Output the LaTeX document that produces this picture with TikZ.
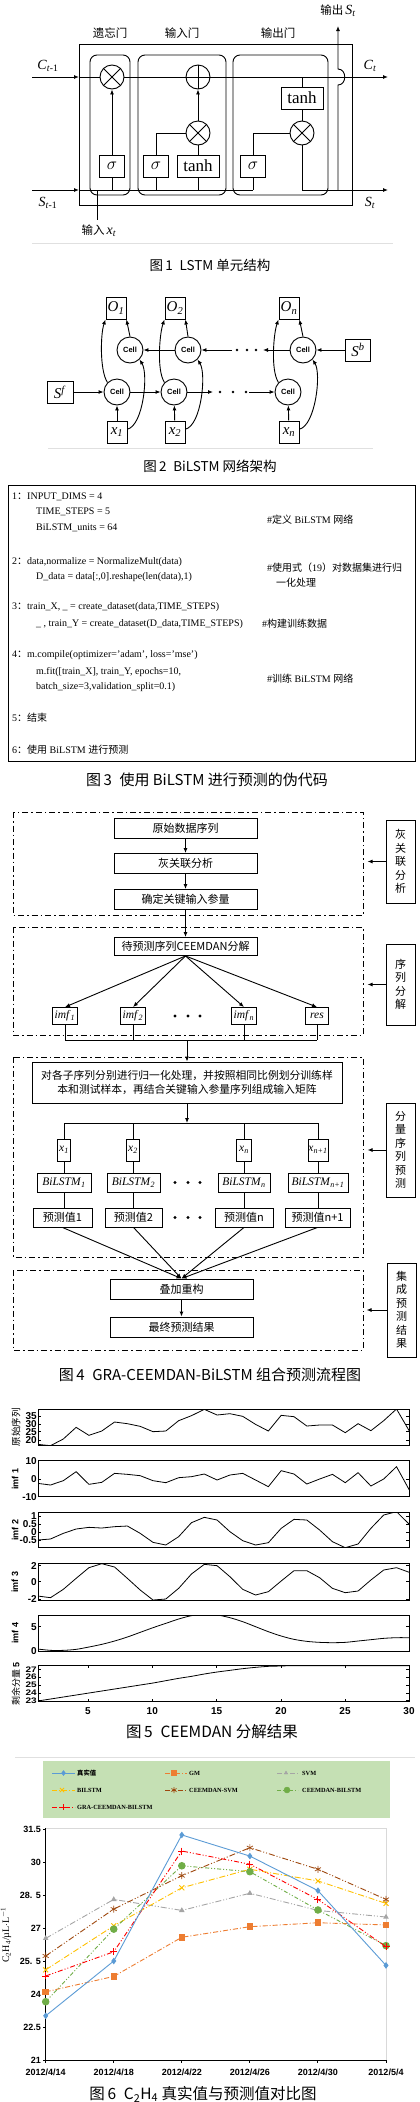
\documentclass[tikz,border=0pt]{standalone}
\usepackage{fontspec}
\usepackage{graphicx}
\setmainfont{Liberation Serif}
\setsansfont{Liberation Sans}
\newfontfamily\cjk{Noto Sans CJK SC}
\usetikzlibrary{arrows.meta,plotmarks}
\definecolor{cblue}{RGB}{91,155,213}
\definecolor{corange}{RGB}{237,125,49}
\definecolor{cgray}{RGB}{165,165,165}
\definecolor{cyellow}{RGB}{255,192,0}
\definecolor{cbrown}{RGB}{158,72,14}
\definecolor{cgreen}{RGB}{112,173,71}
\definecolor{cred}{RGB}{255,0,0}
\definecolor{legbg}{RGB}{197,224,180}
\newcommand\itsub[2]{{\rmfamily\textit{#1}\textsubscript{\textit{#2}}}}
\tikzset{
 ln/.style={line width=0.9pt},
 arr/.style={line width=0.9pt,-{Latex[length=5pt,width=4pt]}},
 capt/.style={font=\cjk\fontsize{#1}{#1}\selectfont, inner sep=0pt},
 lab/.style={font=\cjk\fontsize{11.5}{11.5}\selectfont, inner sep=0pt},
 mlab/.style={font=\fontsize{14}{14}\selectfont, inner sep=0pt},
 op/.style={draw, circle, line width=0.9pt, minimum size=24pt, inner sep=0pt, fill=white},
 gbox/.style={draw, line width=0.9pt, minimum height=22pt, inner sep=0pt, fill=white, font=\fontsize{17}{17}\selectfont},
 cell/.style={draw, circle, line width=0.9pt, minimum size=26pt, inner sep=0pt, font=\sffamily\bfseries\fontsize{7.5}{7.5}\selectfont},
 sq/.style={draw, line width=0.9pt, minimum width=20pt, minimum height=22pt, inner sep=0pt, font=\fontsize{15}{15}\selectfont},
 code/.style={anchor=west, inner sep=0pt, font=\fontsize{10}{10}\selectfont},
 dd/.style={line width=0.9pt, dash pattern=on 6pt off 3pt on 1.5pt off 3pt},
 fb/.style={draw, line width=0.9pt, minimum height=20pt, inner sep=0pt, font=\cjk\fontsize{11}{11}\selectfont},
 mb/.style={draw, line width=0.9pt, inner sep=0pt, font=\fontsize{11.5}{11.5}\selectfont},
 rbox/.style={draw, line width=0.9pt, minimum width=29pt, inner sep=0pt, align=center, font=\cjk\fontsize{11}{13.5}\selectfont},
 tick/.style={font=\sffamily\bfseries\fontsize{10}{10}\selectfont, inner sep=0pt},
 ylab/.style={rotate=90, inner sep=0pt},
 curve/.style={line width=0.8pt},
 gtick/.style={font=\sffamily\bfseries\fontsize{9}{9}\selectfont, inner sep=0pt},
 legt/.style={anchor=west, inner sep=0pt, font=\bfseries\fontsize{6.3}{6.3}\selectfont},
}
\begin{document}
\begin{tikzpicture}[x=1pt,y=-1pt]
\useasboundingbox (0,0) rectangle (420,2102);
% ================= Figure 1 =================
\draw[ln] (79,44) rectangle (352,205);
\draw[ln, rounded corners=7pt] (90,55) rectangle (130,195);
\draw[ln, rounded corners=7pt] (138,55) rectangle (226,195);
\draw[ln, rounded corners=7pt] (233,55) rectangle (328,195);
\node[lab] (g1) at (110,33) {遗忘门};
\node[lab] (g2) at (182,33) {输入门};
\node[lab] (g3) at (278,33) {输出门};
\node[op] (fm) at (112,77) {};
\node[op] (ip) at (198,77) {};
\node[op] (im) at (198,133) {};
\node[op] (om) at (302,133) {};
\draw[ln] (fm.north east) -- (fm.south west) (fm.north west) -- (fm.south east);
\draw[ln] (im.north east) -- (im.south west) (im.north west) -- (im.south east);
\draw[ln] (om.north east) -- (om.south west) (om.north west) -- (om.south east);
\draw[ln] (ip.north) -- (ip.south) (ip.west) -- (ip.east);
\node[gbox, minimum width=25pt] (fs) at (112,166) {$\sigma$};
\node[gbox, minimum width=25pt] (is) at (156,166) {$\sigma$};
\node[gbox, minimum width=42pt] (it) at (198,166) {tanh};
\node[gbox, minimum width=25pt] (os) at (253,166) {$\sigma$};
\node[gbox, minimum width=42pt] (ot) at (302,98) {tanh};
\draw[arr] (32,77) -- (79,77);
\draw[ln] (79,77) -- (fm.west) (fm.east) -- (ip.west);
\draw[arr] (ip.east) -- (388,77);
\draw[ln] (302,77) -- (ot.north);
\draw[ln] (ot.south) -- (om.north);
\draw[arr] (fs.north) -- (fm.south);
\draw[ln] (fs.south) -- (112,190);
\draw[ln] (is.north) |- (im.west);
\draw[ln] (it.north) -- (im.south);
\draw[arr] (im.north) -- (ip.south);
\draw[ln] (is.south) -- (156,190);
\draw[ln] (it.south) -- (198,190);
\draw[ln] (os.north) |- (om.west);
\draw[ln] (os.south) -- (253,190);
\draw[arr] (32,190) -- (79,190);
\draw[ln] (79,190) -- (253,190);
\draw[arr] (om.south) |- (388,190);
\draw[arr] (338,190) -- (338,85) .. controls (347,85) and (347,69) .. (338,69) -- (338,26);
\draw[ln] (97,190) -- (97,220);
\node[mlab] (c0) at (48,66) {\textit{C}\textsubscript{\textit{t}-1}};
\node[mlab] (c1) at (370,66) {\itsub{C}{t}};
\node[mlab] (s0) at (48,203) {\textit{S}\textsubscript{\textit{t}-1}};
\node[mlab] (s1) at (370,203) {\itsub{S}{t}};
\node[lab] (xin) at (99,231) {输入\,{\fontsize{14}{14}\selectfont\itsub{x}{t}}};
\node[lab] (sout) at (338,11) {输出\,{\fontsize{14}{14}\selectfont\itsub{S}{t}}};
\draw[black!12] (32,243) -- (393,243);
\node[capt=13.5] (cap1) at (210,265) {图\,1\enspace LSTM 单元结构};
% ================= Figure 2 =================
\node[sq] (O1) at (116,308) {\itsub{O}{1}};
\node[sq] (O2) at (175,308) {\itsub{O}{2}};
\node[sq] (On) at (289,308) {\itsub{O}{n}};
\node[cell] (U1) at (130,350) {Cell};
\node[cell] (U2) at (188,350) {Cell};
\node[cell] (Un) at (303,350) {Cell};
\node[cell] (L1) at (117,392) {Cell};
\node[cell] (L2) at (174,392) {Cell};
\node[cell] (Ln) at (288,392) {Cell};
\node[sq] (X1) at (117,432) {\itsub{x}{1}};
\node[sq] (X2) at (175,432) {\itsub{x}{2}};
\node[sq] (Xn) at (289,432) {\itsub{x}{n}};
\node[sq, minimum width=26pt] (Sf) at (60,392) {\textit{S}\textsuperscript{\textit{f}}};
\node[sq, minimum width=25pt] (Sb) at (358,350) {\textit{S}\textsuperscript{\textit{b}}};
\draw[arr] (Sf) -- (L1);
\draw[arr] (L1) -- (L2);
\draw[arr] (L2) -- (213,392);
\draw[arr] (249,392) -- (Ln);
\draw[arr] (Sb) -- (Un);
\draw[arr] (Un) -- (263,350);
\draw[arr] (232,350) -- (U2);
\draw[arr] (U2) -- (U1);
\foreach \xx in {220,233,246} \fill (\xx,392) circle (1.3pt);
\foreach \xx in {237,247,256} \fill (\xx,350) circle (1.3pt);
\foreach \c/\o/\l/\x in {U1/O1/L1/X1, U2/O2/L2/X2, Un/On/Ln/Xn} {
  \draw[arr] (\x) -- (\l);
  \draw[arr] (\c.north) -- (\o.south east);
  \draw[arr] (\l.north west) .. controls ([xshift=-8pt,yshift=12pt]\l.north west) and ([xshift=-5pt,yshift=-14pt]\o.south west) .. (\o.south west);
  \draw[arr] (\x.15) .. controls ([xshift=16pt,yshift=4pt]\x.15) and ([xshift=9pt,yshift=-14pt]\c.south east) .. (\c.south east);
}
\draw[black!12] (48,448) -- (373,448);
\node[capt=13.5] (cap2) at (210,466) {图\,2\enspace BiLSTM 网络架构};
% ================= Figure 3 =================
\draw[line width=0.8pt] (8,485) rectangle (415,761);
\node[code] (p1) at (12,497) {1{\cjk ：}INPUT\_DIMS = 4};
\node[code] (p2) at (36,512) {TIME\_STEPS = 5};
\node[code] (p3) at (36,528) {BiLSTM\_units = 64};
\node[code] (p4) at (267,520) {\#{\cjk 定义} BiLSTM {\cjk 网络}};
\node[code] (p5) at (12,562) {2{\cjk ：}data,normalize = NormalizeMult(data)};
\node[code] (p6) at (36,577) {D\_data = data[:,0].reshape(len(data),1)};
\node[code] (p7) at (267,568) {\#{\cjk 使用式（}19{\cjk ）对数据集进行归}};
\node[code] (p8) at (276,583) {{\cjk 一化处理}};
\node[code] (p9) at (12,607) {3{\cjk ：}train\_X, \_ = create\_dataset(data,TIME\_STEPS)};
\node[code] (p10) at (36,624) {\_ , train\_Y = create\_dataset(D\_data,TIME\_STEPS)};
\node[code] (p11) at (262,624) {\#{\cjk 构建训练数据}};
\node[code] (p12) at (12,655) {4{\cjk ：}m.compile(optimizer='adam', loss='mse')};
\node[code] (p13) at (36,672) {m.fit([train\_X], train\_Y, epochs=10,};
\node[code] (p14) at (36,687) {batch\_size=3,validation\_split=0.1)};
\node[code] (p15) at (267,679) {\#{\cjk 训练} BiLSTM {\cjk 网络}};
\node[code] (p16) at (12,718) {5{\cjk ：结束}};
\node[code] (p17) at (12,750) {6{\cjk ：使用} BiLSTM {\cjk 进行预测}};
\node[capt=15] (cap3) at (207,780) {图\,3\enspace 使用 BiLSTM 进行预测的伪代码};
% ================= Figure 4 =================
\draw[dd] (13,812) rectangle (363,915);
\draw[dd] (13,927) rectangle (363,1035);
\draw[dd] (13,1057) rectangle (363,1257);
\draw[dd] (13,1270) rectangle (363,1350);
\node[rbox, minimum height=83pt] (R1) at (400.5,861.5) {灰\\关\\联\\分\\析};
\node[rbox, minimum height=81pt] (R2) at (400.5,984.5) {序\\列\\分\\解};
\node[rbox, minimum height=94pt] (R3) at (400.5,1150) {分\\量\\序\\列\\预\\测};
\node[rbox, minimum height=94pt] (R4) at (401.5,1310) {集\\成\\预\\测\\结\\果};
\draw[arr] (R1.west) -- ++(-18,0);
\draw[arr] (R2.west) -- ++(-18,0);
\draw[arr] (R3.west) -- ++(-18,0);
\draw[arr] (R4.west) -- ++(-20,0);
\node[fb, minimum width=143pt] (B1) at (185.5,828) {原始数据序列};
\node[fb, minimum width=143pt] (B2) at (185.5,863.5) {灰关联分析};
\node[fb, minimum width=143pt] (B3) at (185.5,899.5) {确定关键输入参量};
\node[fb, minimum width=143pt, minimum height=18pt] (B4) at (185.5,946.5) {待预测序列CEEMDAN分解};
\draw[arr] (B1) -- (B2);
\draw[arr] (B2) -- (B3);
\draw[arr] (B3) -- (B4);
\node[mb, minimum width=25pt, minimum height=17pt] (I1) at (65,1016) {\itsub{imf}{1}};
\node[mb, minimum width=25pt, minimum height=17pt] (I2) at (133,1016) {\itsub{imf}{2}};
\node[mb, minimum width=25pt, minimum height=17pt] (In) at (244,1016) {\itsub{imf}{n}};
\node[mb, minimum width=23pt, minimum height=17pt] (Ir) at (317,1016) {\textit{res}};
\foreach \n in {I1,I2,In,Ir} \draw[arr] (B4.south) -- (\n.north);
\foreach \xx in {175,188,200} \fill (\xx,1016) circle (1.6pt);
\foreach \n in {I1,I2,In,Ir} \draw[ln] (\n.south) -- (\n.south |- 0,1040);
\draw[ln] (65,1040) -- (317,1040);
\node[fb, minimum width=310pt, minimum height=41pt, align=center, font=\cjk\fontsize{10.8}{13.5}\selectfont] (T) at (187,1082.5) {对各子序列分别进行归一化处理，并按照相同比例划分训练样\\本和测试样本，再结合关键输入参量序列组成输入矩阵};
\coordinate (bus1) at (187,1040);
\draw[arr] (bus1) -- (T.north);
\coordinate (bus2) at (187,1123);
\draw[arr] (T.south) -- (bus2);
\draw[ln] (65,1123) -- (318,1123);
\node[mb, minimum width=13pt, minimum height=22pt] (XX1) at (64,1150) {\itsub{x}{1}};
\node[mb, minimum width=13pt, minimum height=22pt] (XX2) at (133,1150) {\itsub{x}{2}};
\node[mb, minimum width=15pt, minimum height=22pt] (XXn) at (244,1150) {\itsub{x}{n}};
\node[mb, minimum width=20pt, minimum height=22pt] (XXm) at (318,1150) {\itsub{x}{n+1}};
\node[mb, minimum width=54pt, minimum height=19pt] (M1) at (64,1182.5) {\itsub{BiLSTM}{1}};
\node[mb, minimum width=53pt, minimum height=19pt] (M2) at (133.5,1182.5) {\itsub{BiLSTM}{2}};
\node[mb, minimum width=52pt, minimum height=19pt] (Mn) at (244,1182.5) {\itsub{BiLSTM}{n}};
\node[mb, minimum width=60pt, minimum height=19pt] (Mm) at (318,1182.5) {\itsub{BiLSTM}{n+1}};
\node[fb, minimum width=59pt, minimum height=19pt] (V1) at (62.5,1217.5) {预测值1};
\node[fb, minimum width=57pt, minimum height=19pt] (V2) at (133.5,1217.5) {预测值2};
\node[fb, minimum width=58pt, minimum height=19pt] (Vn) at (244,1217.5) {预测值n};
\node[fb, minimum width=65pt, minimum height=19pt] (Vm) at (317.5,1217.5) {预测值n+1};
\foreach \a/\b/\c in {XX1/M1/V1, XX2/M2/V2, XXn/Mn/Vn, XXm/Mm/Vm} {
  \draw[ln] (\a.north |- 0,1123) -- (\a.north);
  \draw[ln] (\a.south) -- (\a.south |- \b.north);
  \draw[ln] (\b.south) -- (\b.south |- \c.north);
}
\foreach \yy in {1182.5,1217.5} \foreach \xx in {175,188,200} \fill (\xx,\yy) circle (1.6pt);
\node[fb, minimum width=143pt] (B5) at (181.5,1289) {叠加重构};
\node[fb, minimum width=143pt] (B6) at (181.5,1327) {最终预测结果};
\foreach \n in {V1,V2,Vn,Vm} \draw[arr] (\n.south) -- (B5.north);
\draw[arr] (B5) -- (B6);
\node[capt=15] (cap4) at (210,1375) {图\,4\enspace GRA-CEEMDAN-BiLSTM 组合预测流程图};
% ================= Figure 5 =================
\foreach \ya/\yb in {1409.3/1445, 1460.7/1496.7, 1512.7/1547.7, 1563.3/1600, 1615/1651, 1665/1701.7}
  \draw[line width=0.9pt] (38,\ya) rectangle (409,\yb);
\foreach \xx in {88,152.3,216.7,281,345} {
  \draw[line width=0.6pt] (\xx,1665) -- ++(0,3);
  \draw[line width=0.6pt] (\xx,1701.7) -- ++(0,-3);
}
\begin{scope}
\clip (38,1409.3) rectangle (409,1445);
\draw[curve, shift={(37.67pt,-1330pt)}, x=12.816pt, y=-0.33333pt] plot coordinates {(0,343) (1,347) (2,327) (3,292) (4,316) (5,303) (6,276) (7,281) (8,289) (9,305) (10,303) (11,272) (12,257) (13,238) (14,255) (15,251) (16,259) (17,283) (18,303) (19,256) (20,260) (21,288) (22,285) (23,285) (24,308) (25,281) (26,302) (27,272) (28,237) (29,303)};
\end{scope}
\begin{scope}
\clip (38,1460.7) rectangle (409,1496.7);
\draw[curve, shift={(37.67pt,-1440pt)}, x=12.816pt, y=-0.33333pt] plot coordinates {(0,130) (1,135) (2,122) (3,95) (4,133) (5,127) (6,100) (7,103) (8,107) (9,122) (10,128) (11,113) (12,110) (13,102) (14,120) (15,105) (16,100) (17,120) (18,140) (19,92) (20,102) (21,132) (22,117) (23,103) (24,128) (25,98) (26,138) (27,117) (28,80) (29,150)};
\end{scope}
\begin{scope}
\clip (38,1512.7) rectangle (409,1547.7);
\draw[curve, shift={(37.67pt,-1440pt)}, x=12.816pt, y=-0.33333pt] plot coordinates {(0,300) (1,297) (2,280) (3,267) (4,262) (5,264) (6,260) (7,258) (8,280) (9,307) (10,315) (11,290) (12,248) (13,232) (14,240) (15,275) (16,302) (17,315) (18,308) (19,265) (20,238) (21,240) (22,270) (23,305) (24,323) (25,312) (26,265) (27,225) (28,215) (29,253)};
\end{scope}
\begin{scope}
\clip (38,1563.3) rectangle (409,1600);
\draw[curve, shift={(37.67pt,-1525pt)}, x=12.816pt, y=-0.33333pt] plot coordinates {(0,213) (1,218) (2,193) (3,160) (4,128) (5,116) (6,126) (7,160) (8,195) (9,225) (10,222) (11,190) (12,147) (13,118) (14,122) (15,155) (16,193) (17,210) (18,200) (19,168) (20,137) (21,137) (22,158) (23,190) (24,203) (25,198) (26,165) (27,135) (28,128) (29,142)};
\end{scope}
\begin{scope}
\clip (38,1615) rectangle (409,1651);
\draw[curve, shift={(37.67pt,-1525pt)}, x=12.816pt, y=-0.33333pt] plot[smooth] coordinates {(0,372) (1,376) (2,376) (3,373) (4,366) (5,358) (6,348) (7,336) (8,322) (9,308) (10,295) (11,282) (12,272) (13,268) (14,270) (15,278) (16,290) (17,305) (18,320) (19,333) (20,343) (21,349) (22,352) (23,353) (24,352) (25,348) (26,344) (27,340) (28,338) (29,338)};
\end{scope}
\begin{scope}
\clip (38,1665) rectangle (409,1701.7);
\draw[curve, shift={(37.67pt,-1525pt)}, x=12.816pt, y=-0.33333pt] plot[smooth] coordinates {(0,528) (1,522) (2,516) (3,510) (4,504) (5,498) (6,492) (7,486) (8,480) (9,474) (10,467) (11,460) (12,454) (13,447) (14,441) (15,436) (16,431) (17,427) (18,424) (19,423) (20,422) (24,422) (29,422)};
\end{scope}
\foreach \v/\yy in {35/1416, 30/1424.3, 25/1431.7, 20/1440, 10/1460.7, 0/1479, -10/1496.7, 1/1516, 0.5/1524, 0/1532.3, -0.5/1540, 2/1565.7, 0/1581.7, -2/1599, 5/1626.7, 0/1651} {
  \node[tick, anchor=east] at (37,\yy) {\v};
  \draw[line width=0.6pt] (38,\yy) -- ++(3,0);
  \draw[line width=0.6pt] (409,\yy) -- ++(-3,0);
}
\foreach \v/\yy in {27/1669.3, 26/1677, 25/1685, 24/1693, 23/1700.7} {
  \node[tick, anchor=east] at (37,\yy) {\scalebox{1}[0.8]{\v}};
  \draw[line width=0.6pt] (38,\yy) -- ++(3,0);
  \draw[line width=0.6pt] (409,\yy) -- ++(-3,0);
}
\foreach \v/\xx in {5/88, 10/152.3, 15/216.7, 20/281, 25/345, 30/409}
  \node[tick] at (\xx,1711) {\v};
\node[ylab, font=\cjk\fontsize{9.5}{9.5}\selectfont] (y1) at (16,1427) {原始序列};
\node[ylab, font=\sffamily\bfseries\fontsize{9}{9}\selectfont] (y2) at (15,1479) {imf 1};
\node[ylab, font=\sffamily\bfseries\fontsize{9}{9}\selectfont] (y3) at (15,1530) {imf 2};
\node[ylab, font=\sffamily\bfseries\fontsize{9}{9}\selectfont] (y4) at (15,1582) {imf 3};
\node[ylab, font=\sffamily\bfseries\fontsize{9}{9}\selectfont] (y5) at (15,1633) {imf 4};
\node[ylab, font=\cjk\fontsize{9}{9}\selectfont] (y6) at (16,1684) {剩余分量\,{\sffamily\bfseries 5}};
\node[capt=15.5] (cap5) at (212,1732) {图\,5\enspace CEEMDAN 分解结果};
\draw[black!12] (15,1757) -- (415,1757);
% ================= Figure 6 =================
\fill[legbg] (43,1761) rectangle (390,1818);
\draw[cblue, line width=0.9pt] (52,1773) -- (75,1773);
\path plot[mark=diamond*, mark size=2.5pt, mark options={fill=cblue, draw=cblue}] coordinates {(63.5,1773)};
\node[legt] (lg1) at (77,1773) {{\cjk 真实值}};
\draw[corange, line width=0.9pt, dash pattern=on 5pt off 2pt on 1pt off 2pt] (165,1773) -- (187,1773);
\path plot[mark=square*, mark size=2.5pt, mark options={fill=corange, draw=corange}] coordinates {(174,1773)};
\node[legt] (lg2) at (189,1773) {GM};
\draw[cgray, line width=0.9pt, dash pattern=on 5pt off 2pt on 1pt off 2pt on 1pt off 2pt] (277,1773) -- (298,1773);
\path plot[mark=triangle*, mark size=2pt, mark options={fill=cgray, draw=cgray}] coordinates {(286,1773)};
\node[legt] (lg3) at (302,1773) {SVM};
\draw[cyellow, line width=0.9pt, dash pattern=on 5pt off 2pt on 1pt off 2pt] (52,1790) -- (75,1790);
\path plot[mark=x, mark size=3pt, mark options={draw=cyellow, line width=0.9pt}] coordinates {(62,1790)};
\node[legt] (lg4) at (77,1790) {BILSTM};
\draw[cbrown, line width=0.9pt, dash pattern=on 5pt off 2pt on 1pt off 2pt on 1pt off 2pt] (165,1790) -- (187,1790);
\path plot[mark=asterisk, mark size=3pt, mark options={draw=cbrown, line width=0.7pt}] coordinates {(174,1790)};
\node[legt] (lg5) at (189,1790) {CEEMDAN-SVM};
\draw[cgreen, line width=0.9pt, dash pattern=on 4pt off 2pt on 1pt off 2pt on 1pt off 2pt] (277,1790) -- (298,1790);
\path plot[mark=*, mark size=3pt, mark options={fill=cgreen, draw=cgreen}] coordinates {(287,1790)};
\node[legt] (lg6) at (302,1790) {CEEMDAN-BILSTM};
\draw[cred, line width=0.9pt, dash pattern=on 5pt off 2pt on 1pt off 2pt on 1pt off 2pt] (52,1807) -- (75,1807);
\path plot[mark=+, mark size=3pt, mark options={draw=cred, line width=0.9pt}] coordinates {(63,1807)};
\node[legt] (lg7) at (77,1807) {GRA-CEEMDAN-BILSTM};
% axes
\draw[black!15, line width=0.6pt] (45.7,1828) -- (386,1828) -- (386,2060);
\draw[line width=0.9pt] (45.7,1828) -- (45.7,2060) -- (386,2060);
\foreach \v/\yy in {31.5/1829, 30/1862, 28. 5/1895, 27/1928, 25. 5/1961, 24/1994, 22.5/2027, 21/2060} {
  \node[gtick, anchor=east] at (41,\yy) {\v};
  \draw[line width=0.9pt] (45.7,\yy) -- ++(-3,0);
}
\foreach \d [count=\i from 0] in {2012/4/14, 2012/4/18, 2012/4/22, 2012/4/26, 2012/4/30, 2012/5/4} {
  \draw[line width=0.9pt] ({45.7+68.06*\i},2060) -- ++(0,3);
  \node[gtick] at ({45.7+68.06*\i},2072) {\d};
}
\node[ylab, font=\fontsize{10}{10}\selectfont] (yl6) at (6,1935) {C\textsubscript{2}H\textsubscript{4}/\textmu L$\cdot$L\textsuperscript{$-$1}};
\begin{scope}[shift={(45.7pt,-2522pt)}, x=68.06pt, y=22pt]
\draw[corange, line width=0.9pt, dash pattern=on 5pt off 2pt on 1pt off 2pt] plot[mark=square*, mark size=2.8pt, mark options={solid, fill=corange}] coordinates {(0,24.1) (1,24.8) (2,26.58) (3,27.06) (4,27.24) (5,27.14)};
\draw[cgray, line width=0.9pt, dash pattern=on 6pt off 2pt on 1pt off 2pt on 1pt off 2pt] plot[mark=triangle*, mark size=2.3pt, mark options={solid, fill=cgray}] coordinates {(0,26.53) (1,28.3) (2,27.8) (3,28.58) (4,27.8) (5,27.5)};
\draw[cyellow, line width=0.9pt, dash pattern=on 6pt off 2pt on 1pt off 2pt] plot[mark=x, mark size=3.5pt, mark options={solid}] coordinates {(0,25.1) (1,27.1) (2,28.83) (3,29.67) (4,29.14) (5,28.12)};
\draw[cbrown, line width=0.9pt, dash pattern=on 6pt off 2pt on 1pt off 2pt on 1pt off 2pt] plot[mark=asterisk, mark size=3.5pt, mark options={solid, line width=0.7pt}] coordinates {(0,25.73) (1,27.86) (2,29.38) (3,30.65) (4,29.67) (5,28.3)};
\draw[cgreen, line width=0.9pt, dash pattern=on 4pt off 2pt on 1pt off 2pt on 1pt off 2pt] plot[mark=*, mark size=3.3pt, mark options={solid, fill=cgreen}] coordinates {(0,23.65) (1,26.95) (2,29.83) (3,29.56) (4,27.82) (5,26.2)};
\draw[cred, line width=0.9pt, dash pattern=on 5pt off 2pt on 1pt off 2pt on 1pt off 2pt] plot[mark=+, mark size=3.5pt, mark options={solid}] coordinates {(0,24.82) (1,25.92) (2,30.5) (3,29.9) (4,28.3) (5,26.15)};
\draw[cblue, line width=0.9pt] plot[mark=diamond*, mark size=2.6pt, mark options={solid, fill=cblue}] coordinates {(0,23.01) (1,25.5) (2,31.23) (3,30.27) (4,28.7) (5,25.3)};
\end{scope}
\node[capt=15.5] (cap6) at (203,2094) {图\,6\enspace C\textsubscript{2}H\textsubscript{4} 真实值与预测值对比图};
\end{tikzpicture}
\end{document}
